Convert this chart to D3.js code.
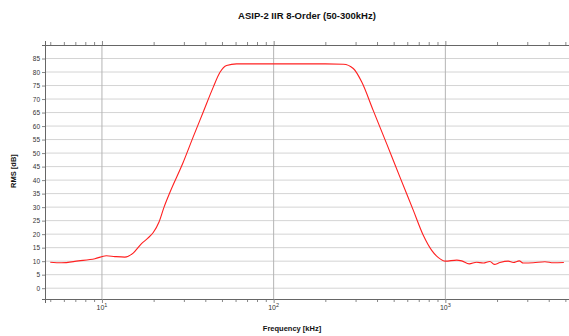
<!DOCTYPE html>
<html>
<head>
<meta charset="utf-8">
<script src="https://cdn.jsdelivr.net/npm/d3@7"></script>
<style>
  body { margin: 0; background: #fff; }
  svg { display: block; font-family: "Liberation Sans", Arial, sans-serif; }
</style>
</head>
<body>
<svg width="569" height="336"></svg>
<script>
// frequency in kHz, level in dB
var freqs = [5, 5.8, 7.3, 9.1, 10.6, 11.9, 13.6, 15.2, 17, 18.5, 19.9, 21.5, 23, 24.9,
  29.7, 34, 38.9, 44.5, 48.6, 53.2, 60.8, 100, 200, 255, 291, 326, 380, 455, 544,
  651, 745, 833, 911, 1000, 1165, 1245, 1377, 1520, 1662, 1818, 1927, 2080, 2325,
  2486, 2694, 2842, 3250, 3802, 4255, 4900];
var rms = [9.6, 9.4, 10.1, 10.9, 12.0, 11.7, 11.5, 13.0, 16.5, 18.5, 20.6, 24.5, 30, 35.5,
  46.5, 56, 65.2, 74.4, 79.8, 82.4, 83.0, 83.0, 83.0, 82.9, 81.3, 76.3, 65.8, 53.5, 41.1,
  28.8, 19.5, 14.0, 11.3, 10.0, 10.4, 10.1, 9.0, 9.6, 9.3, 9.9, 8.8, 9.5, 10.0,
  9.5, 10.1, 9.3, 9.4, 9.8, 9.4, 9.5];
var yTicks = d3.range(0, 90, 5);
var decades = [10, 100, 1000];

var title = "ASIP-2 IIR 8-Order (50-300kHz)";
var xLabel = "Frequency [kHz]";
var yLabel = "RMS [dB]";

var svg = d3.select("svg");
var plotL = 45, plotR = 569, plotT = 45, plotB = 299;

var x = d3.scaleLog().domain([4.66, 5250]).range([plotL, plotR]);
var y = d3.scaleLinear().domain([-4, 90]).range([plotB, plotT]);

// minor ticks 2..9 per decade
var minor = [];
[1, 10, 100, 1000].forEach(function(d) {
  for (var k = 2; k <= 9; k++) {
    var v = d * k;
    if (v >= x.domain()[0] && v <= x.domain()[1]) minor.push(v);
  }
});

// grid
svg.append("g").selectAll("line").data(yTicks).enter().append("line")
  .attr("x1", plotL).attr("x2", plotR)
  .attr("y1", function(d) { return y(d); }).attr("y2", function(d) { return y(d); })
  .attr("stroke", "#d4d4d4").attr("stroke-width", 1);
svg.append("g").selectAll("line").data(decades).enter().append("line")
  .attr("x1", function(d) { return x(d); }).attr("x2", function(d) { return x(d); })
  .attr("y1", plotT).attr("y2", plotB)
  .attr("stroke", "#b4b4b4").attr("stroke-width", 1);

// axes
var axisColor = "#666";
var gy = svg.append("g").attr("transform", "translate(" + plotL + ",0)")
  .call(d3.axisLeft(y).tickValues(yTicks).tickSize(3).tickPadding(2));
var gb = svg.append("g").attr("transform", "translate(0," + plotB + ")")
  .call(d3.axisBottom(x).tickValues(minor).tickSize(3).tickFormat(""));
var gb2 = svg.append("g").attr("transform", "translate(0," + plotB + ")")
  .call(d3.axisBottom(x).tickValues(decades).tickSize(4).tickFormat(""));
var gt = svg.append("g").attr("transform", "translate(0," + plotT + ")")
  .call(d3.axisTop(x).tickValues(minor).tickSize(3).tickFormat(""));
var gt2 = svg.append("g").attr("transform", "translate(0," + plotT + ")")
  .call(d3.axisTop(x).tickValues(decades).tickSize(4).tickFormat(""));

[gy, gb, gb2, gt, gt2].forEach(function(g) {
  g.select(".domain").attr("stroke", axisColor).attr("stroke-width", 1);
  g.selectAll(".tick line").attr("stroke", "#888");
  g.selectAll("text").attr("fill", "#333").style("font-size", "6.5px")
    .style("font-family", "Liberation Sans, Arial, sans-serif");
});

// decade labels 10^n
var lbl = svg.append("g").selectAll("text").data(decades).enter().append("text")
  .attr("x", function(d) { return x(d); })
  .attr("y", plotB + 11)
  .attr("text-anchor", "middle")
  .attr("fill", "#333")
  .style("font-size", "7px");
lbl.append("tspan").text("10");
lbl.append("tspan").attr("dy", -3).style("font-size", "5.5px")
  .text(function(d) { return Math.round(Math.log10(d)); });

// curve
var line = d3.line()
  .x(function(d, i) { return x(freqs[i]); })
  .y(function(d) { return y(d); })
  .curve(d3.curveMonotoneX);
svg.append("path").datum(rms)
  .attr("d", line)
  .attr("fill", "none")
  .attr("stroke", "#ff2020")
  .attr("stroke-width", 1.1);

// titles
svg.append("text").attr("x", 307).attr("y", 19).attr("text-anchor", "middle")
  .style("font-size", "9.5px").style("font-weight", "bold").attr("fill", "#111").text(title);
svg.append("text").attr("x", 292).attr("y", 331).attr("text-anchor", "middle")
  .style("font-size", "7.5px").style("font-weight", "bold").attr("fill", "#111").text(xLabel);
svg.append("text").attr("transform", "translate(16,171) rotate(-90)").attr("text-anchor", "middle")
  .style("font-size", "7.5px").style("font-weight", "bold").attr("fill", "#111").text(yLabel);
</script>
</body>
</html>
